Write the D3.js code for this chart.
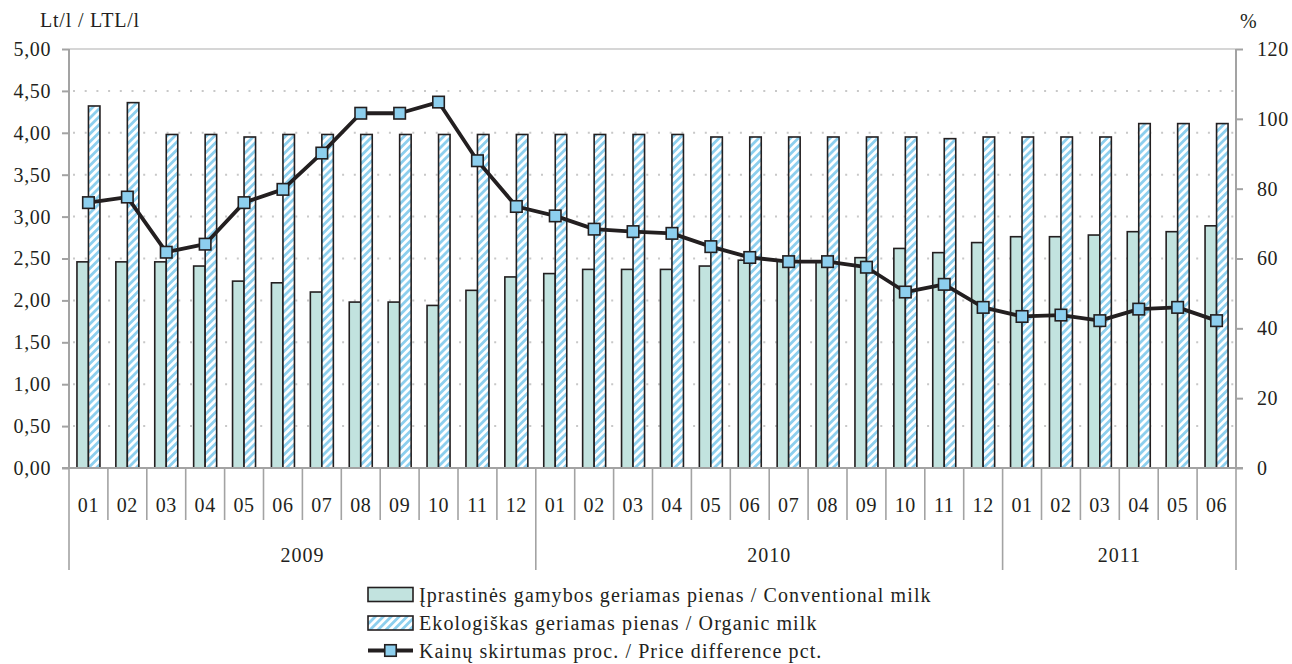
<!DOCTYPE html>
<html>
<head>
<meta charset="utf-8">
<script src="https://cdn.jsdelivr.net/npm/d3@7"></script>
<style>
  html, body { margin: 0; padding: 0; background: #fff; }
  svg { display: block; }
  svg text { font-family: "Liberation Serif", "Times New Roman", serif !important; fill: #231f20; }
</style>
</head>
<body>
<svg id="chart" width="1292" height="664"></svg>
<script>
// ---- data ----
const months = ["01","02","03","04","05","06","07","08","09","10","11","12",
                "01","02","03","04","05","06","07","08","09","10","11","12",
                "01","02","03","04","05","06"];
const yearLabels = ["2009","2010","2011"];
const yearCounts = [12, 12, 6];
const conventional = [2.46,2.46,2.46,2.41,2.23,2.21,2.10,1.98,1.98,1.94,2.12,2.28,
                      2.32,2.37,2.37,2.37,2.41,2.48,2.47,2.47,2.51,2.62,2.57,2.69,
                      2.76,2.76,2.78,2.82,2.82,2.89];
const organic = [4.32,4.36,3.98,3.98,3.95,3.98,3.98,3.98,3.98,3.98,3.98,3.98,
                 3.98,3.98,3.98,3.98,3.95,3.95,3.95,3.95,3.95,3.95,3.93,3.95,
                 3.95,3.95,3.95,4.11,4.11,4.11];
const priceDiff = [76.0,77.6,61.8,64.1,76.0,79.8,90.2,101.6,101.6,104.8,88.0,74.9,
                   72.2,68.4,67.7,67.2,63.4,60.3,59.1,59.1,57.5,50.4,52.6,46.0,
                   43.4,43.8,42.2,45.5,46.0,42.2];
const leftTicks = [0,0.5,1,1.5,2,2.5,3,3.5,4,4.5,5];
const rightTicks = [0,20,40,60,80,100,120];
const leftTitle = "Lt/l / LTL/l";
const rightTitle = "%";
const legendLabels = ["Įprastinės gamybos geriamas pienas / Conventional milk",
                      "Ekologiškas geriamas pienas / Organic milk",
                      "Kainų skirtumas proc. / Price difference pct."];

// ---- layout ----
const L = 69, R = 1236, T = 49, B = 468;
const ink = "#231f20", axisGray = "#a3a3a3";
const convFill = "#c2e3df", blue = "#8dcfee";
const barW = 11.5;
const FF = '"Liberation Serif", "Times New Roman", serif';

const svg = d3.select("#chart");
const defs = svg.append("defs");
const pat = defs.append("pattern").attr("id","hatch").attr("patternUnits","userSpaceOnUse")
  .attr("width",5.6).attr("height",5.6).attr("patternTransform","rotate(45)");
pat.append("rect").attr("width",5.6).attr("height",5.6).attr("fill","#fff");
pat.append("rect").attr("width",2.8).attr("height",5.6).attr("fill",blue);

const x = d3.scaleBand().domain(d3.range(months.length)).range([L, R]).padding(0);
const yL = d3.scaleLinear().domain([0,5]).range([B, T]);
const yR = d3.scaleLinear().domain([0,120]).range([B, T]);
const fmt = v => d3.format(".2f")(v).replace(".", ",");

// gridlines
svg.append("g").selectAll("line").data(leftTicks.filter(v => v > 0 && v < 5)).join("line")
  .attr("x1", L).attr("x2", R).attr("y1", d => yL(d)).attr("y2", d => yL(d))
  .attr("stroke", "#c8c8c8").attr("stroke-width", 2).attr("stroke-dasharray", "2,9.7")
  .attr("stroke-dashoffset", -4);
svg.append("line").attr("x1", L).attr("x2", R).attr("y1", yL(5)).attr("y2", yL(5))
  .attr("stroke", "#c8c8c8").attr("stroke-width", 1.5);

// bars
const cx = i => x(i) + x.bandwidth() / 2;
svg.append("g").selectAll("rect").data(conventional).join("rect")
  .attr("x", (d,i) => cx(i) - barW).attr("width", barW)
  .attr("y", d => yL(d)).attr("height", d => B - yL(d))
  .attr("fill", convFill).attr("stroke", ink).attr("stroke-width", 1.6);
svg.append("g").selectAll("rect").data(organic).join("rect")
  .attr("x", (d,i) => cx(i)).attr("width", barW)
  .attr("y", d => yL(d)).attr("height", d => B - yL(d))
  .attr("fill", "url(#hatch)").attr("stroke", ink).attr("stroke-width", 1.6);

// axes
const axL = svg.append("g").attr("transform", `translate(${L},0)`)
  .call(d3.axisLeft(yL).tickValues(leftTicks).tickFormat(fmt).tickSize(7).tickPadding(11));
const axR = svg.append("g").attr("transform", `translate(${R},0)`)
  .call(d3.axisRight(yR).tickValues(rightTicks).tickFormat(d3.format("d")).tickSize(7).tickPadding(14));
[axL, axR].forEach(g => {
  g.attr("font-family", FF).attr("font-size", 20);
  g.select(".domain").remove();
  g.selectAll(".tick line").attr("stroke", axisGray).attr("stroke-width", 2);
  g.selectAll(".tick text").attr("fill", ink).attr("letter-spacing", 0.6);
});
svg.append("line").attr("x1", L).attr("x2", L).attr("y1", T).attr("y2", B).attr("stroke", axisGray).attr("stroke-width", 2);
svg.append("line").attr("x1", R).attr("x2", R).attr("y1", T).attr("y2", B).attr("stroke", axisGray).attr("stroke-width", 2);

// category axis
svg.append("line").attr("x1", L - 7).attr("x2", R + 7).attr("y1", B).attr("y2", B).attr("stroke", axisGray).attr("stroke-width", 2);
const yearStarts = [];
let acc = 0;
yearCounts.forEach(c => { yearStarts.push(acc); acc += c; });
const monthSeps = d3.range(months.length + 1).filter(i => !yearStarts.includes(i) && i !== months.length);
svg.append("g").selectAll("line").data(monthSeps).join("line")
  .attr("x1", i => x.step() * i + L).attr("x2", i => x.step() * i + L)
  .attr("y1", B).attr("y2", 520).attr("stroke", axisGray).attr("stroke-width", 1.6);
svg.append("g").selectAll("line").data([...yearStarts, months.length]).join("line")
  .attr("x1", i => x.step() * i + L).attr("x2", i => x.step() * i + L)
  .attr("y1", B).attr("y2", 570).attr("stroke", axisGray).attr("stroke-width", 1.6);
svg.append("g").selectAll("text").data(months).join("text")
  .attr("x", (d,i) => cx(i)).attr("y", 512).attr("text-anchor", "middle")
  .attr("font-family", FF).attr("font-size", 20).attr("letter-spacing", 0.6).text(d => d);
svg.append("g").selectAll("text").data(yearLabels).join("text")
  .attr("x", (d,i) => L + x.step() * (yearStarts[i] + yearCounts[i] / 2)).attr("y", 562)
  .attr("text-anchor", "middle").attr("font-family", FF).attr("font-size", 20)
  .attr("letter-spacing", 1).text(d => d);

// line
svg.append("path").datum(priceDiff)
  .attr("d", d3.line().x((d,i) => cx(i)).y(d => yR(d)))
  .attr("fill", "none").attr("stroke", ink).attr("stroke-width", 3.8).attr("stroke-linejoin", "round");
const ms = 11.5;
svg.append("g").selectAll("rect").data(priceDiff).join("rect")
  .attr("x", (d,i) => cx(i) - ms/2).attr("y", d => yR(d) - ms/2)
  .attr("width", ms).attr("height", ms)
  .attr("fill", blue).attr("stroke", ink).attr("stroke-width", 1.6);

// titles
svg.append("text").attr("x", 40).attr("y", 27).attr("font-family", FF).attr("font-size", 20)
  .attr("letter-spacing", 0.8).text(leftTitle);
svg.append("text").attr("x", 1240).attr("y", 28).attr("font-family", FF).attr("font-size", 20).text(rightTitle);

// legend
const lg = svg.append("g");
const rowsY = [594.5, 623, 650.5];
lg.append("rect").attr("x", 368).attr("y", rowsY[0] - 7).attr("width", 45).attr("height", 14)
  .attr("fill", convFill).attr("stroke", ink).attr("stroke-width", 1.6);
lg.append("rect").attr("x", 368).attr("y", rowsY[1] - 7).attr("width", 45).attr("height", 14)
  .attr("fill", "url(#hatch)").attr("stroke", ink).attr("stroke-width", 1.6);
lg.append("line").attr("x1", 368).attr("x2", 413).attr("y1", rowsY[2]).attr("y2", rowsY[2])
  .attr("stroke", ink).attr("stroke-width", 3.8);
lg.append("rect").attr("x", 390.5 - ms/2).attr("y", rowsY[2] - ms/2).attr("width", ms).attr("height", ms)
  .attr("fill", blue).attr("stroke", ink).attr("stroke-width", 1.6);
lg.selectAll("text").data(legendLabels).join("text")
  .attr("x", 419).attr("y", (d,i) => rowsY[i] + 7).attr("font-family", FF).attr("font-size", 20)
  .attr("letter-spacing", 1.1).text(d => d);
</script>
</body>
</html>
